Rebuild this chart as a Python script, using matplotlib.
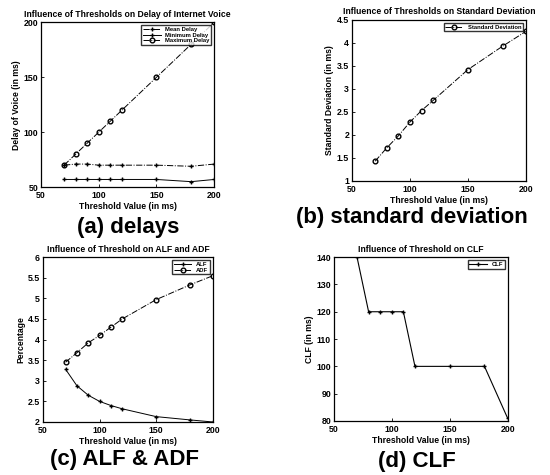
import numpy as np
import matplotlib.pyplot as plt

plt.rcParams['font.family'] = ['Liberation Sans', 'DejaVu Sans']
plt.rcParams['font.weight'] = 'bold'

thresh = [70, 80, 90, 100, 110, 120, 150, 180, 200]

mean_delay = [70, 71, 71, 70, 70, 70, 70, 69, 71]
min_delay = [57, 57, 57, 57, 57, 57, 57, 55, 57]
max_delay = [70, 80, 90, 100, 110, 120, 150, 180, 200]

std_dev = [1.43, 1.72, 1.98, 2.28, 2.53, 2.75, 3.42, 3.93, 4.25]

adf = [3.45, 3.68, 3.92, 4.1, 4.3, 4.5, 4.97, 5.33, 5.55]
alf = [3.28, 2.88, 2.65, 2.5, 2.4, 2.32, 2.13, 2.05, 2.0]

clf = [140, 120, 120, 120, 120, 100, 100, 100, 81]

fig = plt.figure(figsize=(5.5, 4.75), dpi=100)

tick_fs = 6.3
lab_fs = 6.2
title_fs = 6.2
leg_fs = 4.2
ms = 3.4


def style(ax, title, ylabel):
    ax.set_title(title, fontsize=title_fs, fontweight='bold', pad=4)
    ax.set_xlabel('Threshold Value (in ms)', fontsize=lab_fs, fontweight='bold', labelpad=1)
    ax.set_ylabel(ylabel, fontsize=lab_fs, fontweight='bold', labelpad=2)
    ax.tick_params(labelsize=tick_fs, length=2, width=0.6, direction='in')
    ax.tick_params(axis='x', pad=3)
    ax.tick_params(axis='y', pad=2)
    for s in ax.spines.values():
        s.set_linewidth(0.9)
    ax.set_xlim(50, 200)
    ax.set_xticks([50, 100, 150, 200])


# (a)
ax1 = fig.add_axes([0.0745, 0.606, 0.315, 0.347])
ax1.plot(thresh, mean_delay, 'k-.', marker='+', ms=ms, lw=0.7, label='Mean Delay')
ax1.plot(thresh, min_delay, 'k-', marker='+', ms=ms, lw=0.7, label='Minimum Delay')
ax1.plot(thresh, max_delay, 'k-.', marker='o', ms=ms, mfc='none', lw=0.7, label='Maximum Delay')
ax1.set_ylim(50, 200)
ax1.set_yticks([50, 100, 150, 200])
style(ax1, 'Influence of Thresholds on Delay of Internet Voice', 'Delay of Voice (in ms)')
ax1.legend(loc='upper right', fontsize=leg_fs, frameon=True, fancybox=False,
           edgecolor='black', handlelength=3, borderpad=0.3, labelspacing=0.1)

# (b)
ax2 = fig.add_axes([0.64, 0.619, 0.316, 0.339])
ax2.plot(thresh, std_dev, 'k-.', marker='o', ms=ms, mfc='none', lw=0.7, label='Standard Deviation')
ax2.set_ylim(1, 4.5)
ax2.set_yticks([1, 1.5, 2, 2.5, 3, 3.5, 4, 4.5])
ax2.set_yticklabels(['1', '1.5', '2', '2.5', '3', '3.5', '4', '4.5'])
style(ax2, 'Influence of Thresholds on Standard Deviation', 'Standard Deviation (in ms)')
ax2.legend(loc='upper right', fontsize=leg_fs, frameon=True, fancybox=False,
           edgecolor='black', handlelength=3, borderpad=0.3)

# (c)
ax3 = fig.add_axes([0.078, 0.1116, 0.309, 0.347])
ax3.plot(thresh, alf, 'k-', marker='+', ms=ms, lw=0.7, label='ALF')
ax3.plot(thresh, adf, 'k-.', marker='o', ms=ms, mfc='none', lw=0.7, label='ADF')
ax3.set_ylim(2, 6)
ax3.set_yticks([2, 2.5, 3, 3.5, 4, 4.5, 5, 5.5, 6])
ax3.set_yticklabels(['2', '2.5', '3', '3.5', '4', '4.5', '5', '5.5', '6'])
style(ax3, 'Influence of Threshold on ALF and ADF', 'Percentage')
ax3.legend(loc='upper right', fontsize=leg_fs, frameon=True, fancybox=False,
           edgecolor='black', handlelength=3, borderpad=0.3, labelspacing=0.1)

# (d)
ax4 = fig.add_axes([0.607, 0.1137, 0.316, 0.345])
ax4.plot(thresh, clf, 'k-', marker='+', ms=ms, lw=0.8, label='CLF')
ax4.set_ylim(80, 140)
ax4.set_yticks([80, 90, 100, 110, 120, 130, 140])
style(ax4, 'Influence of Threshold on CLF', 'CLF (in ms)')
ax4.legend(loc='upper right', fontsize=leg_fs, frameon=True, fancybox=False,
           edgecolor='black', handlelength=3, borderpad=0.3)

cap_fs = 16
fig.text(128 / 550, 1 - 227 / 475, '(a) delays', fontsize=cap_fs, fontweight='bold', ha='center', va='center')
fig.text(412 / 550, 1 - 218 / 475, '(b) standard deviation', fontsize=cap_fs, fontweight='bold', ha='center', va='center')
fig.text(125 / 550, 1 - 459 / 475, '(c) ALF & ADF', fontsize=cap_fs, fontweight='bold', ha='center', va='center')
fig.text(417 / 550, 1 - 462 / 475, '(d) CLF', fontsize=cap_fs, fontweight='bold', ha='center', va='center')

fig.savefig('out.png', dpi=100)
